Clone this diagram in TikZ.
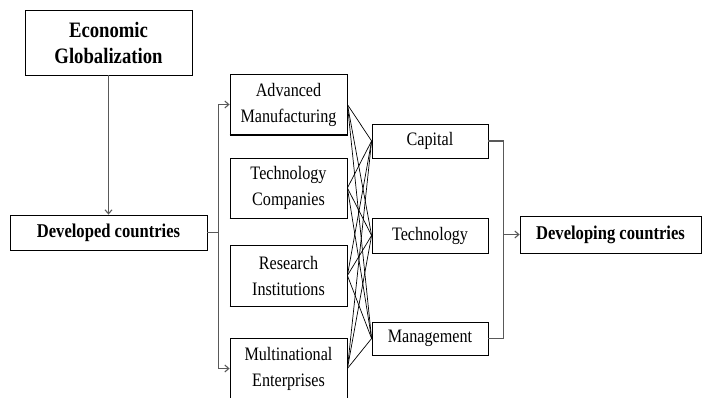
\documentclass[tikz,border=0pt]{standalone}
\usepackage{fontspec}
\setmainfont{Liberation Serif}[FakeStretch=0.85]
\usetikzlibrary{arrows.meta}
\begin{document}
\begin{tikzpicture}[x=1pt,y=-1pt,
  box/.style={draw=black,line width=0.8pt,inner sep=0pt,align=center,font=\fontsize{19}{26}\selectfont},
  midbox/.style={box,minimum width=117pt},
  rbox/.style={box,minimum width=116pt},
  thickbot/.style={line width=1.8pt},
  conn/.style={draw=black!65,line width=1.1pt},
  arr/.style={conn,-{Straight Barb[length=4pt,width=7pt]}},
  cross/.style={draw=black,line width=0.7pt}]
\useasboundingbox (0,0) rectangle (703,398);
% left column
\node[box,minimum width=167pt,minimum height=65pt,font=\fontsize{22}{26}\selectfont\bfseries] (eg) at (108.5,42.5) {Economic\\Globalization};
\node[box,minimum width=197pt,minimum height=35pt,font=\fontsize{19.5}{22}\selectfont\bfseries] (dc) at (108.5,232.5) {Developed countries};
% middle column
\node[midbox,minimum height=61pt] (am) at (288.5,104.5) {Advanced\\Manufacturing};
\node[midbox,minimum height=60pt] (tc) at (288.5,188) {Technology\\Companies};
\node[midbox,minimum height=61pt] (ri) at (288.5,275.5) {Research\\Institutions};
\node[midbox,minimum height=60pt] (me) at (288.5,368.5) {Multinational\\Enterprises};
\foreach \n in {am,tc,ri} \draw[thickbot] (\n.south west) -- (\n.south east);
% right column
\node[rbox,minimum height=34pt] (cap) at (430,141) {Capital};
\node[rbox,minimum height=35pt] (tec) at (430,235.5) {Technology};
\node[rbox,minimum height=33pt] (man) at (430,338.5) {Management};
% developing
\node[box,minimum width=181pt,minimum height=37pt,font=\fontsize{19.5}{22}\selectfont\bfseries] (dv) at (610.5,234.5) {Developing countries};
% connectors
\draw[arr] (eg.south) -- (dc.north);
\draw[conn] (dc.east) -- ++(11,0) coordinate (j);
\draw[arr] (j) |- (am.west);
\draw[arr] (j) |- (me.west);
\draw[conn] (cap.east) -- ++(15,0) coordinate (k) |- (man.east);
\draw[arr] (k |- dv.west) -- (dv.west);
% crossing lines
\foreach \s in {am,tc,ri,me}
  \foreach \t in {cap,tec,man}
    \draw[cross] (\s.east) -- (\t.west);
\end{tikzpicture}
\end{document}
